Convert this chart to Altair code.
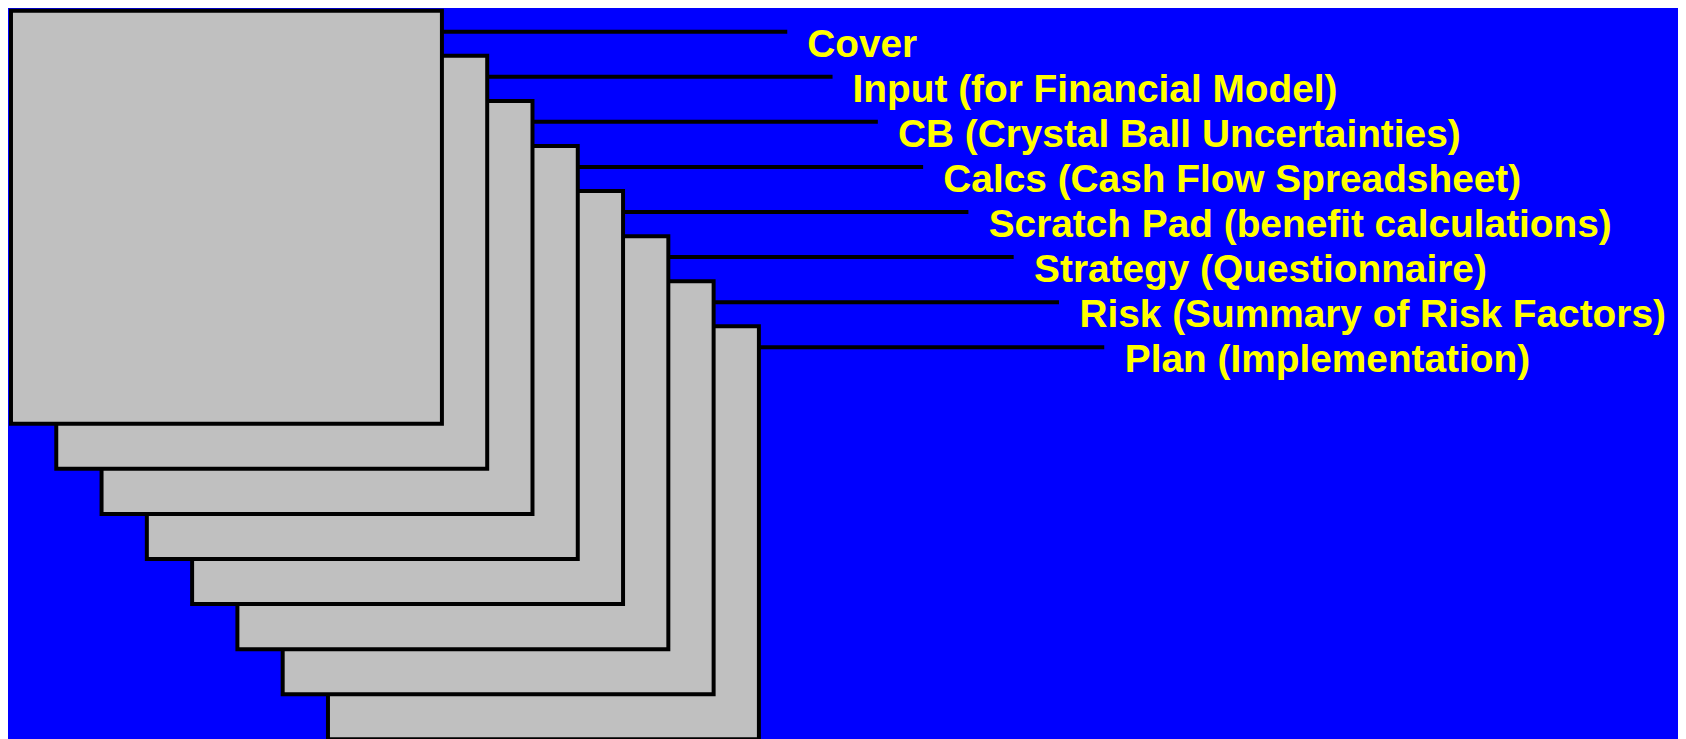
import altair as alt
import pandas as pd

# ---- data ----
labels = [
    "Cover",
    "Input (for Financial Model)",
    "CB (Crystal Ball Uncertainties)",
    "Calcs (Cash Flow Spreadsheet)",
    "Scratch Pad (benefit calculations)",
    "Strategy (Questionnaire)",
    "Risk (Summary of Risk Factors)",
    "Plan (Implementation)",
]
page_index = list(range(len(labels)))

# ---- layout (chart pixel space) ----
W, H = 1678, 731
STEP_X, STEP_Y = 45.5, 45.3
PAGE_W, PAGE_H = 433, 415

df = pd.DataFrame({"page": page_index, "label": labels})

xs = alt.Scale(domain=[0, W], range=[0, W], nice=False, zero=False)
ys = alt.Scale(domain=[0, H], reverse=True, nice=False, zero=False)

base = alt.Chart(df).transform_calculate(
    left=f"3 + datum.page * {STEP_X}",
    top=f"1 + datum.page * {STEP_Y}",
).transform_calculate(
    right=f"datum.left + {PAGE_W}",
    bottom=f"datum.top + {PAGE_H}",
    line_y=f"datum.top + 21",
    line_end=f"datum.left + 780",
    text_x=f"803 + datum.page * 45.6",
    text_y=f"datum.top + 46",
)

pages = base.mark_rect(fill="#C0C0C0", stroke="black", strokeWidth=4).encode(
    x=alt.X("left:Q", scale=xs, axis=None),
    x2="right:Q",
    y=alt.Y("top:Q", scale=ys, axis=None),
    y2="bottom:Q",
    order=alt.Order("page:Q", sort="descending"),
)

leaders = base.mark_rule(color="black", strokeWidth=4).encode(
    x=alt.X("right:Q", scale=xs, axis=None),
    x2="line_end:Q",
    y=alt.Y("line_y:Q", scale=ys, axis=None),
)

texts = base.mark_text(
    align="left",
    baseline="alphabetic",
    font="Liberation Sans",
    fontWeight="bold",
    fontSize=39,
    color="#FFFF00",
).encode(
    x=alt.X("text_x:Q", scale=xs, axis=None),
    y=alt.Y("text_y:Q", scale=ys, axis=None),
    text="label:N",
)

chart = (
    alt.layer(pages, leaders, texts)
    .properties(width=W, height=H, padding=0, autosize="none", background="#0000FF")
    .configure_view(strokeWidth=0)
)

chart.save("out.html", embed_options={"renderer": "svg", "actions": False})
